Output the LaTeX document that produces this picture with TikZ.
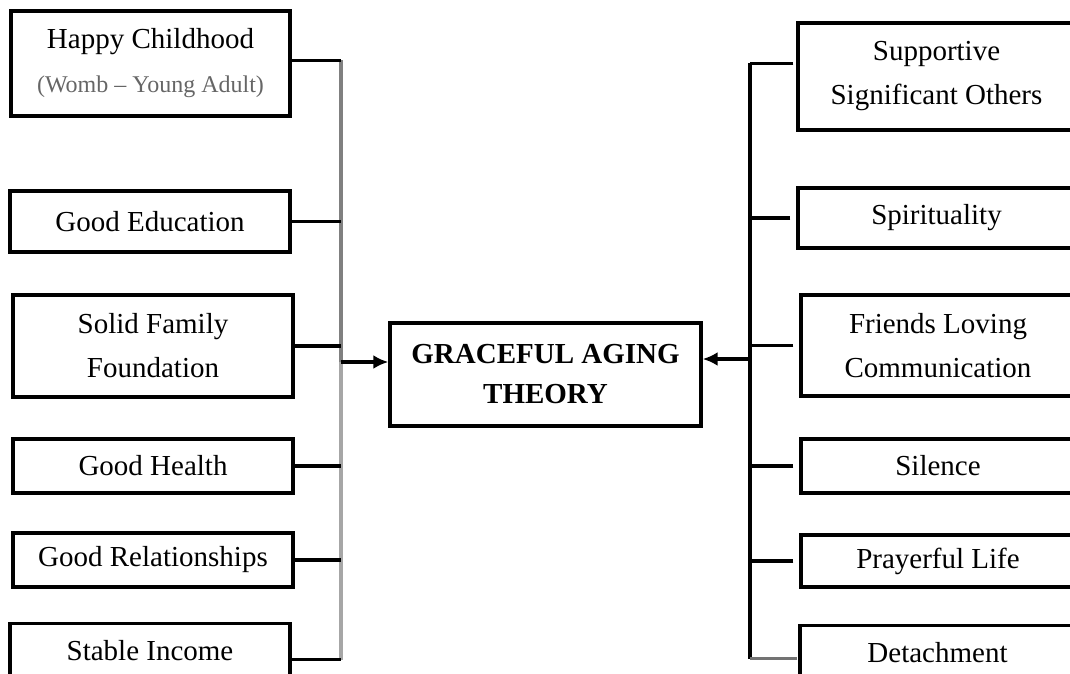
\documentclass[tikz,border=0pt]{standalone}
\usepackage{fontspec}
\setmainfont{Liberation Serif}
\usetikzlibrary{arrows.meta}
\begin{document}
\begin{tikzpicture}[x=1pt,y=-1pt,
  every node/.style={font=\fontsize{29}{44}\selectfont},
  factor/.style={draw,line width=3.4pt,minimum width=280pt,inner sep=0pt,align=center},
  core/.style={draw,line width=3.4pt,minimum width=311pt,minimum height=103pt,inner sep=0pt,align=center,
    font=\fontsize{29}{40}\selectfont\bfseries},
  link/.style={line width=3.4pt},
  feed/.style={line width=3.4pt,-{Latex[length=15pt,width=14pt]}}]
\useasboundingbox (0,0) rectangle (1070,674);
\clip (0,0) rectangle (1070,674);

% left column of factors
\node[factor,minimum height=105pt,minimum width=279pt] (L1) at (150.5,63.5)
  {Happy Childhood\\{\fontsize{24}{44}\selectfont\color{black!60}(Womb -- Young Adult)}};
\node[factor,minimum height=61pt] (L2) at (150,221.5) {Good Education};
\node[factor,minimum height=102pt] (L3) at (153,346) {Solid Family\\Foundation};
\node[factor,minimum height=54pt] (L4) at (153,466) {Good Health};
\node[factor,minimum height=54pt] (L5) at (153,560) {Good Relationships};
\node[factor,minimum height=54pt,anchor=north] (L6) at (150,622) {Stable Income};

% right column of factors
\node[factor,minimum height=107pt,minimum width=277pt] (R1) at (936.5,76.5) {Supportive\\Significant Others};
\node[factor,minimum height=60pt,minimum width=277pt] (R2) at (936.5,218) {Spirituality};
\node[factor,minimum height=101pt,minimum width=274pt] (R3) at (938,345.5) {Friends Loving\\Communication};
\node[factor,minimum height=54pt,minimum width=274pt] (R4) at (938,466) {Silence};
\node[factor,minimum height=52pt,minimum width=274pt] (R5) at (938,561) {Prayerful Life};
\node[factor,minimum height=54pt,minimum width=275pt,anchor=north] (R6) at (937.5,624) {Detachment};

% central concept
\node[core] (C) at (545.5,374.5) {GRACEFUL AGING\\THEORY};

% collecting bars
\coordinate (lb) at (341,362);
\coordinate (rb) at (750,359);
\coordinate (l1) at ([yshift=3pt]L1.east);
\coordinate (l6) at ([yshift=-9pt]L6.east);
\coordinate (r1) at ([yshift=13pt]R1.west);
\coordinate (r6) at ([yshift=-6pt]R6.west);

\draw[link,black!50] (l1 -| lb) -- (lb);
\draw[link,black!35] (lb) -- (l6 -| lb);
\foreach \n in {L2,L3,L4,L5}
  \draw[link] (\n.east) -- (\n.east -| lb);
\draw[link] (l1) -- (l1 -| lb);
\draw[link] (l6) -- (l6 -| lb);

\draw[link] (r1 -| rb) -- (r6 -| rb);
\draw[link] ([xshift=-3pt]r1) -- (r1 -| rb);
\foreach \n in {R2,R3,R4,R5}
  \draw[link] ([xshift=-6pt]\n.west) -- (\n.west -| rb);
\draw[link,black!55] ([xshift=-1pt]r6) -- (r6 -| rb);

% arrows into the theory
\draw[feed] (lb) -- (lb -| C.west);
\draw[feed] (rb) -- (rb -| C.east);
\end{tikzpicture}
\end{document}
